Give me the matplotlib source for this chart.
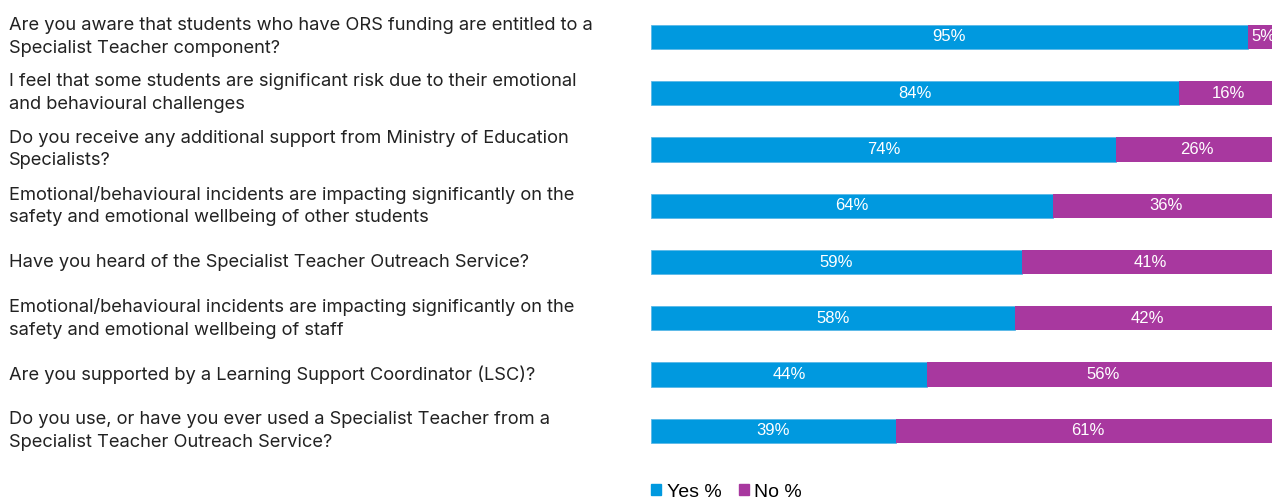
import matplotlib.pyplot as plt
from matplotlib.patches import Patch
import matplotlib.transforms as mtransforms

questions = [
    'Are you aware that students who have ORS funding are entitled to a\nSpecialist Teacher component?',
    'I feel that some students are significant risk due to their emotional\nand behavioural challenges',
    'Do you receive any additional support from Ministry of Education\nSpecialists?',
    'Emotional/behavioural incidents are impacting significantly on the\nsafety and emotional wellbeing of other students',
    'Have you heard of the Specialist Teacher Outreach Service?',
    'Emotional/behavioural incidents are impacting significantly on the\nsafety and emotional wellbeing of staff',
    'Are you supported by a Learning Support Coordinator (LSC)?',
    'Do you use, or have you ever used a Specialist Teacher from a\nSpecialist Teacher Outreach Service?',
]
yes_pct = [95, 84, 74, 64, 59, 58, 44, 39]
no_pct = [5, 16, 26, 36, 41, 42, 56, 61]

blue = '#0099DF'
purple = '#A8389F'

fig = plt.figure(figsize=(12.72, 4.98), dpi=100)
# bar area runs a little past the right edge, as in the original
ax = fig.add_axes([651 / 1272, 1 - 459 / 498, 628 / 1272, (459 - 8.8) / 498])

y = list(range(len(questions)))
ax.barh(y, yes_pct, height=0.43, color=blue, edgecolor='#5BB8E8', linewidth=0.6)
ax.barh(y, no_pct, left=yes_pct, height=0.43, color=purple)

for i in y:
    ax.text(yes_pct[i] / 2, i, f'{yes_pct[i]}%', ha='center', va='center',
            color='white', fontsize=12, family='Liberation Sans')
    ax.text(yes_pct[i] + no_pct[i] / 2, i, f'{no_pct[i]}%', ha='center', va='center',
            color='white', fontsize=12, family='Liberation Sans')

ax.set_xlim(0, 100)
ax.set_ylim(len(questions) - 0.5, -0.5)
ax.axis('off')

trans = mtransforms.blended_transform_factory(fig.transFigure, ax.transData)
for i, q in enumerate(questions):
    fig.text(9 / 1272, i, q, transform=trans, ha='left', va='center',
             fontsize=13.2, family='Inter', color='#222222', linespacing=1.42)

handles = [Patch(color=blue, label='Yes %'), Patch(color=purple, label='No %')]
fig.legend(handles=handles, loc='center left', bbox_to_anchor=(651 / 1272, 1 - 492 / 498),
           ncol=2, frameon=False, borderpad=0, borderaxespad=0,
           handlelength=0.5, handleheight=0.5, handletextpad=0.3,
           columnspacing=0.9, prop={'family': 'Liberation Sans', 'size': 14})

fig.savefig('out.png', dpi=100)
